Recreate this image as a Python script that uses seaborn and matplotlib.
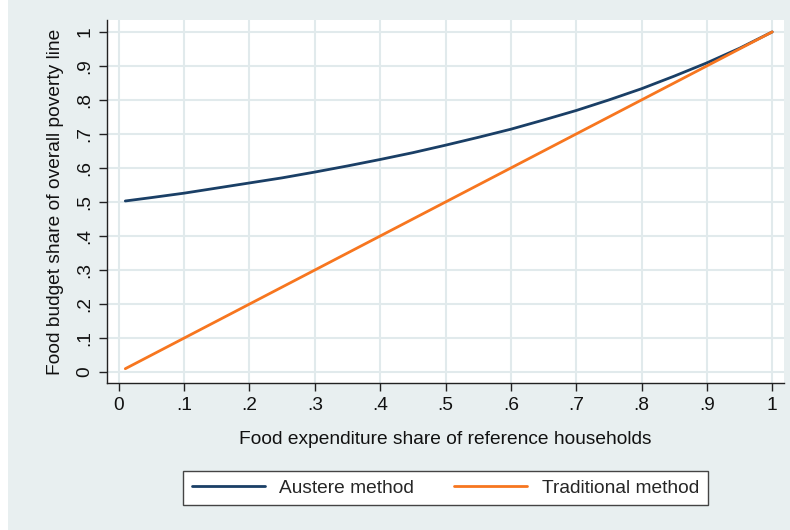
import matplotlib
matplotlib.use("Agg")
import matplotlib.pyplot as plt
import seaborn as sns
import pandas as pd
from matplotlib.patches import Rectangle

# values
food_share = [0.01, 0.05, 0.10, 0.15, 0.20, 0.25, 0.30, 0.35, 0.40, 0.45, 0.50,
              0.55, 0.60, 0.65, 0.70, 0.75, 0.80, 0.85, 0.90, 0.95, 1.00]
austere = [0.503, 0.513, 0.526, 0.541, 0.556, 0.571, 0.588, 0.606, 0.625, 0.645, 0.667,
           0.690, 0.714, 0.741, 0.769, 0.800, 0.833, 0.870, 0.909, 0.952, 1.000]
traditional = [0.01, 0.05, 0.10, 0.15, 0.20, 0.25, 0.30, 0.35, 0.40, 0.45, 0.50,
               0.55, 0.60, 0.65, 0.70, 0.75, 0.80, 0.85, 0.90, 0.95, 1.00]
methods = ["Austere method", "Traditional method"]
colors = ["#1A3F66", "#F7761F"]
ticks = [0, .1, .2, .3, .4, .5, .6, .7, .8, .9, 1]
tick_labels = ["0", ".1", ".2", ".3", ".4", ".5", ".6", ".7", ".8", ".9", "1"]

df = pd.DataFrame({
    "x": food_share + food_share,
    "y": austere + traditional,
    "method": [methods[0]] * len(austere) + [methods[1]] * len(traditional),
})

sns.set_style("white")
plt.rcParams["font.family"] = ["Liberation Sans", "DejaVu Sans"]
fs = 13.8

bg = "#E8EFF0"
fig = plt.figure(figsize=(7.9, 5.3), dpi=100, facecolor="white")
fig.patches.append(Rectangle((8 / 790, 0), 1, 1, transform=fig.transFigure,
                             facecolor=bg, edgecolor="none", zorder=-1))
ax = fig.add_axes([107 / 790, 1 - 383 / 530, 677 / 790, 363 / 530])
ax.set_facecolor("white")

sns.lineplot(data=df, x="x", y="y", hue="method", palette=colors, linewidth=2,
             ax=ax, legend=False)

ax.set_xlim(-0.018, 1.018)
ax.set_ylim(-0.032, 1.035)
ax.set_xticks(ticks)
ax.set_xticklabels(tick_labels)
ax.set_yticks(ticks)
ax.set_yticklabels(tick_labels, rotation=90, va="center")
ax.grid(True, color="#E1EAEC", linewidth=1.5)
ax.set_axisbelow(True)
for s in ["top", "right"]:
    ax.spines[s].set_visible(False)
for s in ["left", "bottom"]:
    ax.spines[s].set_color("#222222")
    ax.spines[s].set_linewidth(1)
ax.tick_params(direction="out", length=6, width=1, color="#222222",
               labelsize=fs, labelcolor="#111111", pad=4, left=True, bottom=True)
ax.set_xlabel("Food expenditure share of reference households", fontsize=fs,
              color="#111111", labelpad=12)
ax.set_ylabel("Food budget share of overall poverty line", fontsize=fs,
              color="#111111", labelpad=9)

handles = [plt.Line2D([], [], color=c, linewidth=2) for c in colors]
leg = fig.legend(handles, methods, loc="center", bbox_to_anchor=(445.5 / 790, 1 - 488 / 530),
                 ncol=2, fontsize=fs, frameon=True, fancybox=False, handlelength=3.8,
                 columnspacing=2.1, borderpad=0.45, handletextpad=0.75)
leg.get_frame().set_edgecolor("#444444")
leg.get_frame().set_linewidth(1)
leg.get_frame().set_facecolor("white")
leg.get_frame().set_alpha(1)

fig.savefig("out.png", dpi=100, facecolor=fig.get_facecolor())
